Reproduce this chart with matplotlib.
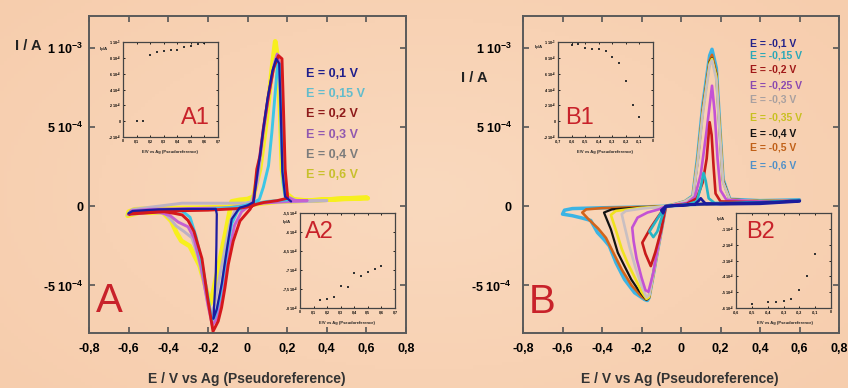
import numpy as np
import matplotlib.pyplot as plt

plt.rcParams['font.family'] = ['Liberation Sans', 'DejaVu Sans']
plt.rcParams['mathtext.fontset'] = 'custom'
plt.rcParams['mathtext.rm'] = 'Liberation Sans:bold'
plt.rcParams['mathtext.it'] = 'Liberation Sans:bold'
plt.rcParams['mathtext.bf'] = 'Liberation Sans:bold'

# ---- data: currents in units of 1e-4 A, potentials in V ----
x_ticks = [-0.8, -0.6, -0.4, -0.2, 0.0, 0.2, 0.4, 0.6, 0.8]
x_tick_labels = ['-0,8', '-0,6', '-0,4', '-0,2', '0', '0,2', '0,4', '0,6', '0,8']
y_ticks = [-5, 0, 5, 10]
y_tick_labels = ['-5 10$^{-4}$', '0', '5 10$^{-4}$', '1 10$^{-3}$']

# panel A (anodic switching potential)
a_labels = ['E = 0,1 V', 'E = 0,15 V', 'E = 0,2 V', 'E = 0,3 V', 'E = 0,4 V', 'E = 0,6 V']

a_yellow = [(0.60, 0.55), (0.45, 0.45), (0.30, 0.35), (0.15, 0.28), (0.05, 0.15), (0.00, 0.05),
            (-0.10, -0.05), (-0.25, -0.10), (-0.40, -0.12), (-0.50, -0.15), (-0.57, -0.20),
            (-0.60, -0.35), (-0.605, -0.60), (-0.546, -0.40), (-0.427, -0.40), (-0.385, -0.93),
            (-0.359, -1.66), (-0.334, -2.19), (-0.292, -2.51), (-0.241, -3.78), (-0.205, -5.40),
            (-0.188, -6.15), (-0.172, -5.30), (-0.140, -3.40), (-0.110, -1.60), (-0.080, 0.30),
            (-0.040, 0.40), (0.000, 0.45), (0.030, 0.60), (0.063, 2.34), (0.097, 5.50),
            (0.123, 8.67), (0.140, 10.40), (0.148, 9.73), (0.165, 5.93), (0.174, 2.34),
            (0.190, 0.87), (0.232, 0.44), (0.30, 0.35), (0.45, 0.45), (0.607, 0.50)]
a_gray = [(0.40, 0.35), (0.30, 0.30), (0.15, 0.25), (0.05, 0.20), (-0.10, 0.19), (-0.33, 0.19),
          (-0.45, 0.00), (-0.58, -0.20), (-0.605, -0.55), (-0.50, -0.38), (-0.42, -0.45),
          (-0.39, -0.80), (-0.36, -1.25), (-0.32, -1.60), (-0.28, -2.00), (-0.25, -3.20),
          (-0.22, -4.80), (-0.195, -6.50), (-0.182, -6.80), (-0.165, -6.20), (-0.140, -4.40),
          (-0.110, -2.40), (-0.085, -0.90), (-0.060, -0.20), (-0.020, 0.10), (0.020, 0.30),
          (0.050, 1.50), (0.080, 4.50), (0.110, 7.20), (0.135, 9.00), (0.148, 9.50),
          (0.160, 8.50), (0.170, 5.00), (0.180, 2.00), (0.200, 0.60), (0.250, 0.35), (0.40, 0.35)]
a_purple = [(0.30, 0.35), (0.20, 0.30), (0.08, 0.20), (0.00, 0.05), (-0.10, -0.10), (-0.30, -0.15),
            (-0.50, -0.20), (-0.59, -0.30), (-0.60, -0.50), (-0.45, -0.35), (-0.39, -0.60),
            (-0.35, -1.00), (-0.30, -1.30), (-0.27, -2.00), (-0.235, -3.80), (-0.20, -6.20),
            (-0.178, -7.50), (-0.160, -7.20), (-0.135, -6.00), (-0.110, -4.30), (-0.090, -2.60),
            (-0.065, -1.20), (-0.030, -0.35), (0.010, 0.05), (0.030, 0.30), (0.050, 2.00),
            (0.080, 4.90), (0.106, 7.00), (0.131, 8.70), (0.150, 9.60), (0.165, 8.80),
            (0.175, 5.50), (0.185, 2.20), (0.200, 0.60), (0.240, 0.35), (0.30, 0.35)]
a_cyan = [(0.20, 0.40), (0.10, 0.30), (0.03, 0.15), (-0.05, -0.05), (-0.20, -0.20), (-0.33, -0.25),
          (-0.50, -0.30), (-0.60, -0.45), (-0.45, -0.30), (-0.33, -0.30), (-0.29, -0.70),
          (-0.26, -1.90), (-0.23, -3.60), (-0.20, -5.70), (-0.18, -7.20), (-0.165, -7.00),
          (-0.140, -5.80), (-0.120, -4.20), (-0.100, -2.50), (-0.080, -1.10), (-0.050, -0.30),
          (-0.010, 0.05), (0.030, 0.20), (0.060, 0.44), (0.080, 1.20), (0.106, 2.55),
          (0.123, 4.66), (0.140, 7.20), (0.153, 9.10), (0.160, 9.00), (0.165, 7.80),
          (0.170, 4.66), (0.180, 1.50), (0.190, 0.60), (0.20, 0.40)]
a_red = [(0.20, 0.50), (0.15, 0.35), (0.08, 0.23), (0.047, 0.13), (0.02, 0.00), (-0.05, -0.15),
         (-0.20, -0.25), (-0.40, -0.30), (-0.55, -0.35), (-0.60, -0.50), (-0.42, -0.35),
         (-0.37, -0.45), (-0.33, -0.55), (-0.30, -0.90), (-0.27, -1.60), (-0.23, -3.30),
         (-0.20, -5.90), (-0.174, -7.90), (-0.148, -7.26), (-0.131, -6.40), (-0.114, -5.15),
         (-0.097, -3.67), (-0.072, -2.20), (-0.038, -0.93), (0.013, -0.19), (0.030, 0.23),
         (0.047, 2.34), (0.063, 3.18), (0.080, 4.87), (0.106, 6.98), (0.131, 8.67),
         (0.156, 9.50), (0.174, 9.30), (0.182, 5.93), (0.190, 2.34), (0.202, 0.65), (0.20, 0.50)]
a_blue = [(-0.60, -0.45), (-0.58, -0.30), (-0.45, -0.20), (-0.30, -0.17), (-0.16, -0.17),
          (-0.155, -0.50), (-0.157, -2.50), (-0.160, -4.20), (-0.165, -5.50), (-0.172, -7.10),
          (-0.155, -6.50), (-0.130, -4.90), (-0.105, -2.80), (-0.080, -0.82), (-0.040, -0.10),
          (0.000, 0.05), (0.030, 0.25), (0.045, 1.60), (0.063, 3.20), (0.080, 4.90),
          (0.100, 6.70), (0.125, 8.50), (0.145, 9.30), (0.160, 9.00), (0.168, 6.00),
          (0.176, 2.20), (0.190, 0.60), (0.220, 0.30)]

# panel B (cathodic switching potential)
b_labels = ['E = -0,1 V', 'E = -0,15 V', 'E = -0,2 V', 'E = -0,25 V', 'E = -0,3 V',
            'E = -0,35 V', 'E = -0,4 V', 'E = -0,5 V', 'E = -0,6 V']
b_forward = [(0.60, 0.35), (0.45, 0.25), (0.30, 0.20), (0.15, 0.15), (0.05, 0.10), (-0.077, 0.00)]

b_cyan_loop = [(-0.20, -0.05), (-0.40, -0.10), (-0.55, -0.15), (-0.59, -0.25), (-0.60, -0.50),
               (-0.55, -0.60), (-0.50, -0.75), (-0.457, -0.90), (-0.423, -1.66), (-0.39, -2.10),
               (-0.363, -2.51), (-0.329, -3.57), (-0.286, -4.62), (-0.235, -5.46), (-0.184, -5.89),
               (-0.17, -5.95), (-0.162, -5.78), (-0.14, -4.30), (-0.12, -2.90), (-0.10, -1.55)]
b_cyan_anodic = [(-0.077, 0.00), (-0.03, 0.12), (0.02, 0.30), (0.06, 0.65), (0.085, 3.20),
                 (0.11, 6.35), (0.145, 9.50), (0.157, 9.90), (0.179, 8.70), (0.197, 4.90),
                 (0.213, 1.70), (0.247, 0.44), (0.40, 0.35), (0.60, 0.40)]
b_orange_loop = [(-0.20, -0.05), (-0.40, -0.12), (-0.48, -0.20), (-0.50, -0.40), (-0.47, -0.80),
                 (-0.42, -1.40), (-0.38, -2.00), (-0.34, -3.00), (-0.30, -4.00), (-0.25, -5.00),
                 (-0.20, -5.70), (-0.175, -5.90), (-0.162, -5.78), (-0.14, -4.30), (-0.12, -2.90),
                 (-0.10, -1.55)]
b_orange_anodic = [(-0.077, 0.00), (-0.03, 0.12), (0.02, 0.30), (0.06, 0.60), (0.085, 3.00),
                   (0.11, 6.10), (0.145, 9.20), (0.157, 9.55), (0.179, 8.40), (0.197, 4.70),
                   (0.213, 1.60), (0.247, 0.42), (0.40, 0.32), (0.60, 0.38)]
b_black_loop = [(-0.20, -0.08), (-0.35, -0.20), (-0.39, -0.40), (-0.355, -1.46), (-0.32, -2.93),
                (-0.286, -3.78), (-0.252, -4.62), (-0.215, -5.30), (-0.184, -5.78),
                (-0.175, -5.90), (-0.162, -5.78), (-0.14, -4.30), (-0.12, -2.90), (-0.10, -1.55)]
b_black_anodic = [(-0.077, 0.00), (-0.03, 0.12), (0.02, 0.30), (0.06, 0.60), (0.085, 2.90),
                  (0.11, 6.00), (0.145, 9.10), (0.157, 9.35), (0.179, 8.30), (0.197, 4.60),
                  (0.213, 1.60), (0.247, 0.42), (0.40, 0.32), (0.60, 0.36)]
b_yellow_loop = [(-0.20, -0.10), (-0.33, -0.30), (-0.355, -0.55), (-0.33, -1.50), (-0.30, -2.70),
                 (-0.27, -3.60), (-0.23, -4.60), (-0.20, -5.40), (-0.175, -5.85), (-0.162, -5.75),
                 (-0.14, -4.30), (-0.12, -2.90), (-0.10, -1.55)]
b_yellow_anodic = [(-0.077, 0.00), (-0.03, 0.12), (0.02, 0.30), (0.06, 0.60), (0.085, 2.90),
                   (0.11, 5.90), (0.145, 9.00), (0.157, 9.30), (0.179, 8.20), (0.197, 4.60),
                   (0.213, 1.50), (0.247, 0.40), (0.40, 0.32), (0.60, 0.36)]
b_gray_loop = [(-0.20, -0.15), (-0.28, -0.30), (-0.30, -0.50), (-0.285, -1.30), (-0.26, -2.60),
               (-0.23, -3.90), (-0.20, -5.00), (-0.175, -5.75), (-0.16, -5.60), (-0.14, -4.30),
               (-0.12, -2.90), (-0.10, -1.55)]
b_gray_anodic = [(-0.077, 0.00), (-0.03, 0.12), (0.02, 0.30), (0.06, 0.60), (0.085, 2.80),
                 (0.11, 5.80), (0.145, 8.90), (0.157, 9.20), (0.179, 8.00), (0.197, 4.40),
                 (0.213, 1.50), (0.247, 0.40), (0.40, 0.30), (0.60, 0.35)]
b_purple_loop = [(-0.11, -0.19), (-0.17, -0.40), (-0.22, -0.72), (-0.247, -1.35), (-0.24, -2.20),
                 (-0.225, -3.30), (-0.20, -4.50), (-0.18, -5.30), (-0.165, -5.40), (-0.14, -4.20),
                 (-0.12, -2.80), (-0.10, -1.50)]
b_purple_anodic = [(-0.077, 0.00), (0.03, 0.20), (0.07, 0.60), (0.10, 2.00), (0.13, 4.80),
                   (0.157, 7.60), (0.17, 6.00), (0.185, 3.00), (0.20, 1.00), (0.23, 0.40),
                   (0.40, 0.30), (0.60, 0.35)]
b_red_loop = [(-0.085, -0.13), (-0.119, -0.72), (-0.153, -1.35), (-0.196, -2.30), (-0.18, -3.00),
              (-0.153, -3.78), (-0.13, -2.90), (-0.10, -1.50)]
b_red_anodic = [(-0.077, 0.00), (0.03, 0.15), (0.08, 0.50), (0.11, 1.50), (0.13, 3.00),
                (0.145, 5.30), (0.155, 4.50), (0.165, 2.50), (0.175, 0.80), (0.20, 0.30),
                (0.40, 0.25), (0.60, 0.35)]
b_teal_loop = [(-0.10, -0.40), (-0.13, -1.00), (-0.16, -1.60), (-0.14, -1.95), (-0.12, -1.60),
               (-0.10, -0.80)]
b_teal_anodic = [(-0.077, 0.00), (0.03, 0.10), (0.08, 0.30), (0.10, 1.20), (0.114, 2.10),
                 (0.125, 1.60), (0.14, 0.50), (0.17, 0.20), (0.30, 0.20), (0.60, 0.35)]
b_blue_loop = [(-0.10, -0.25), (-0.09, -0.45)]
b_blue_anodic = [(-0.077, 0.00), (0.00, 0.05), (0.07, 0.12), (0.09, 0.35), (0.10, 0.50),
                 (0.11, 0.35), (0.125, 0.15), (0.20, 0.12), (0.40, 0.15), (0.60, 0.30)]

# insets
a1_E = [0.10, 0.15, 0.20, 0.25, 0.30, 0.35, 0.40, 0.45, 0.50, 0.55, 0.60]
a1_I = [0.0, 0.0, 8.4, 8.8, 8.85, 9.0, 9.05, 9.4, 9.5, 9.7, 9.85]
a2_E = [0.15, 0.20, 0.25, 0.30, 0.35, 0.40, 0.45, 0.50, 0.55, 0.60]
a2_I = [-7.78, -7.75, -7.70, -7.42, -7.44, -7.07, -7.16, -7.05, -6.97, -6.90]
b1_E = [-0.60, -0.55, -0.50, -0.45, -0.40, -0.35, -0.30, -0.25, -0.20, -0.15, -0.10]
b1_I = [9.67, 9.80, 9.25, 9.17, 9.08, 8.83, 8.10, 7.30, 5.10, 2.10, 0.50]
b2_E = [-0.50, -0.40, -0.35, -0.30, -0.25, -0.20, -0.15, -0.10]
b2_I = [-5.73, -5.64, -5.64, -5.58, -5.41, -4.84, -3.96, -2.57]

# ---- figure ----
fig = plt.figure(figsize=(8.48, 3.88), dpi=100)
fig.patch.set_facecolor('#f8d3b4')

bg = fig.add_axes([0, 0, 1, 1], zorder=-10)
yy, xx = np.mgrid[0:1:120j, 0:1:240j]
r = np.clip(np.hypot((xx - 0.5) * 1.3, (yy - 0.5) * 1.1), 0, 1)
c_mid = np.array([250, 217, 190]) / 255
c_edge = np.array([246, 203, 170]) / 255
grad = c_mid[None, None, :] * (1 - r[..., None]) + c_edge[None, None, :] * r[..., None]
bg.imshow(grad, extent=[0, 1, 0, 1], aspect='auto')
bg.axis('off')

red_txt = '#c8222a'


def setup_main(ax, ypad):
    ax.set_facecolor('none')
    ax.set_xlim(-0.8, 0.8)
    ax.set_ylim(-8, 12)
    ax.set_xticks(x_ticks)
    ax.set_xticklabels(x_tick_labels, fontsize=9, fontweight='bold')
    ax.set_yticks(y_ticks)
    ax.set_yticklabels(y_tick_labels, fontsize=9, fontweight='bold')
    ax.tick_params(axis='x', direction='in', top=True, length=4, width=1.2, color='#555555', pad=7)
    ax.tick_params(axis='y', direction='in', right=True, length=4, width=1.2, color='#555555', pad=ypad)
    for s in ax.spines.values():
        s.set_color('#5a5a5a')
        s.set_linewidth(1.4)


def setup_inset(ax, xlim, ylim, xt, xtl, yt, ytl):
    ax.set_facecolor('none')
    ax.set_xlim(*xlim)
    ax.set_ylim(*ylim)
    ax.set_xticks(xt)
    ax.set_xticklabels(xtl, fontsize=2.6, fontweight='bold')
    ax.set_yticks(yt)
    ax.set_yticklabels(ytl, fontsize=2.6, fontweight='bold')
    ax.tick_params(direction='in', length=1.5, width=0.6, pad=1.5, top=True, right=True)
    for s in ax.spines.values():
        s.set_color('#444444')
        s.set_linewidth(0.9)


def draw(ax, pts, color, lw):
    e = [p[0] for p in pts]
    i = [p[1] for p in pts]
    ax.plot(e, i, color=color, lw=lw, solid_joinstyle='round', solid_capstyle='round')


# panel A
axA = fig.add_axes([89 / 848, 1 - 333 / 388, 317 / 848, 317 / 388])
setup_main(axA, 4)
draw(axA, a_yellow, '#f7ef1e', 3.4)
draw(axA, a_gray, '#bdb2c4', 2.1)
draw(axA, a_purple, '#c462d2', 2.1)
draw(axA, a_cyan, '#3cc6e6', 2.1)
draw(axA, a_red, '#d4181c', 2.1)
draw(axA, a_blue, '#1c1ca0', 1.6)

a_text_colors = ['#1e1e8c', '#62bccc', '#8e1a1a', '#9058b0', '#7c7c7c', '#c8c02c']
a_text_y = [74, 94, 114, 135, 155, 175]
for lab, c, y in zip(a_labels, a_text_colors, a_text_y):
    fig.text(306 / 848, 1 - y / 388, lab, fontsize=9, fontweight='bold', color=c,
             ha='left', va='center')

# panel B
axB = fig.add_axes([523 / 848, 1 - 333 / 388, 316 / 848, 317 / 388])
setup_main(axB, 8)
b_curves = [
    (b_cyan_loop, b_cyan_anodic, '#3cb4e4', 2.5),
    (b_orange_loop, b_orange_anodic, '#d4641a', 1.9),
    (b_black_loop, b_black_anodic, '#111111', 1.6),
    (b_yellow_loop, b_yellow_anodic, '#f0e21e', 1.9),
    (b_gray_loop, b_gray_anodic, '#c9bfc2', 1.9),
    (b_purple_loop, b_purple_anodic, '#c452d4', 1.9),
    (b_red_loop, b_red_anodic, '#c81a1a', 1.9),
    (b_teal_loop, b_teal_anodic, '#26b4c4', 1.9),
    (b_blue_loop, b_blue_anodic, '#1c1c9c', 1.9),
]
for loop, anodic, c, lw in b_curves:
    draw(axB, b_forward + loop + anodic, c, lw)

b_text_colors = ['#22228a', '#2aa8b8', '#a01818', '#8a4ab0', '#a8a0a0', '#c8c020',
                 '#111111', '#c06018', '#5090c8']
b_text_y = [43, 55, 70, 85, 99, 117, 133, 148, 165]
for lab, c, y in zip(b_labels, b_text_colors, b_text_y):
    fig.text(750 / 848, 1 - y / 388, lab, fontsize=7.5, fontweight='bold', color=c,
             ha='left', va='center')

# axis labels
for x, y in [(247, 379), (680, 379)]:
    fig.text(x / 848, 1 - y / 388, 'E / V vs Ag (Pseudoreference)', fontsize=10,
             fontweight='bold', color='#333333', ha='center', va='center')
for x, y in [(28, 46), (474, 78)]:
    fig.text(x / 848, 1 - y / 388, 'I / A', fontsize=10.5, fontweight='bold',
             color='#222222', ha='center', va='center')

# panel letters
fig.text(109.5 / 848, 1 - 301.5 / 388, 'A', fontsize=29, color=red_txt, ha='center', va='center')
fig.text(542 / 848, 1 - 302 / 388, 'B', fontsize=29, color=red_txt, ha='center', va='center')

# insets
pos_tick = ['0', '0,1', '0,2', '0,3', '0,4', '0,5', '0,6', '0,7']
neg7_tick = ['-0,7', '-0,6', '-0,5', '-0,4', '-0,3', '-0,2', '-0,1', '0']
neg6_tick = ['-0,6', '-0,5', '-0,4', '-0,3', '-0,2', '-0,1', '0']
ip_ticks = [-2, 0, 2, 4, 6, 8, 10]
ip_labels = ['-2 10$^{-4}$', '0', '2 10$^{-4}$', '4 10$^{-4}$', '6 10$^{-4}$', '8 10$^{-4}$',
             '1 10$^{-3}$']

insets = [
    ((123, 42), a1_E, a1_I, (0, 0.7), np.arange(0, 0.71, 0.1), pos_tick, (-2, 10),
     ip_ticks, ip_labels, 'A1'),
    ((300, 213), a2_E, a2_I, (0, 0.7), np.arange(0, 0.71, 0.1), pos_tick, (-8, -5.5),
     [-8, -7.5, -7, -6.5, -6, -5.5], ['-8 10$^{-4}$', '-7,5 10$^{-4}$', '-7 10$^{-4}$',
                                       '-6,5 10$^{-4}$', '-6 10$^{-4}$', '-5,5 10$^{-4}$'], 'A2'),
    ((558, 42), b1_E, b1_I, (-0.7, 0), np.arange(-0.7, 0.01, 0.1), neg7_tick, (-2, 10),
     ip_ticks, ip_labels, 'B1'),
    ((736, 213), b2_E, b2_I, (-0.6, 0), np.arange(-0.6, 0.01, 0.1), neg6_tick, (-6, 0),
     [-6, -5, -4, -3, -2, -1], ['-6 10$^{-4}$', '-5 10$^{-4}$', '-4 10$^{-4}$',
                                '-3 10$^{-4}$', '-2 10$^{-4}$', '-1 10$^{-4}$'], 'B2'),
]
label_pos = {'A1': (195, 118.5), 'A2': (319, 231.5), 'B1': (579.5, 118.5), 'B2': (760, 231.5)}
ip_pos = {'A1': (104, 50), 'A2': (287, 223), 'B1': (539, 48), 'B2': (721, 220)}
xl_pos = {'A1': (170, 152), 'A2': (347, 323), 'B1': (605, 152), 'B2': (785, 323)}

for (x0, y0), ex, iy, xlim, xt, xtl, ylim, yt, ytl, name in insets:
    ax = fig.add_axes([x0 / 848, 1 - (y0 + 95) / 388, 95 / 848, 95 / 388])
    setup_inset(ax, xlim, ylim, xt, xtl, yt, ytl)
    ax.scatter(ex, iy, s=2.5, color='#333333', marker='s', linewidths=0)
    lx, ly = label_pos[name]
    fig.text(lx / 848, 1 - ly / 388, name, fontsize=17, color=red_txt, ha='center', va='center')
    px, py = ip_pos[name]
    fig.text(px / 848, 1 - py / 388, 'I$_p$/A', fontsize=3.2, fontweight='bold',
             color='#222222', ha='center', va='center')
    qx, qy = xl_pos[name]
    fig.text(qx / 848, 1 - qy / 388, 'E/V vs Ag (Pseudoreference)', fontsize=3,
             fontweight='bold', color='#222222', ha='center', va='center')

fig.savefig('out.png', dpi=100, facecolor=fig.get_facecolor())
